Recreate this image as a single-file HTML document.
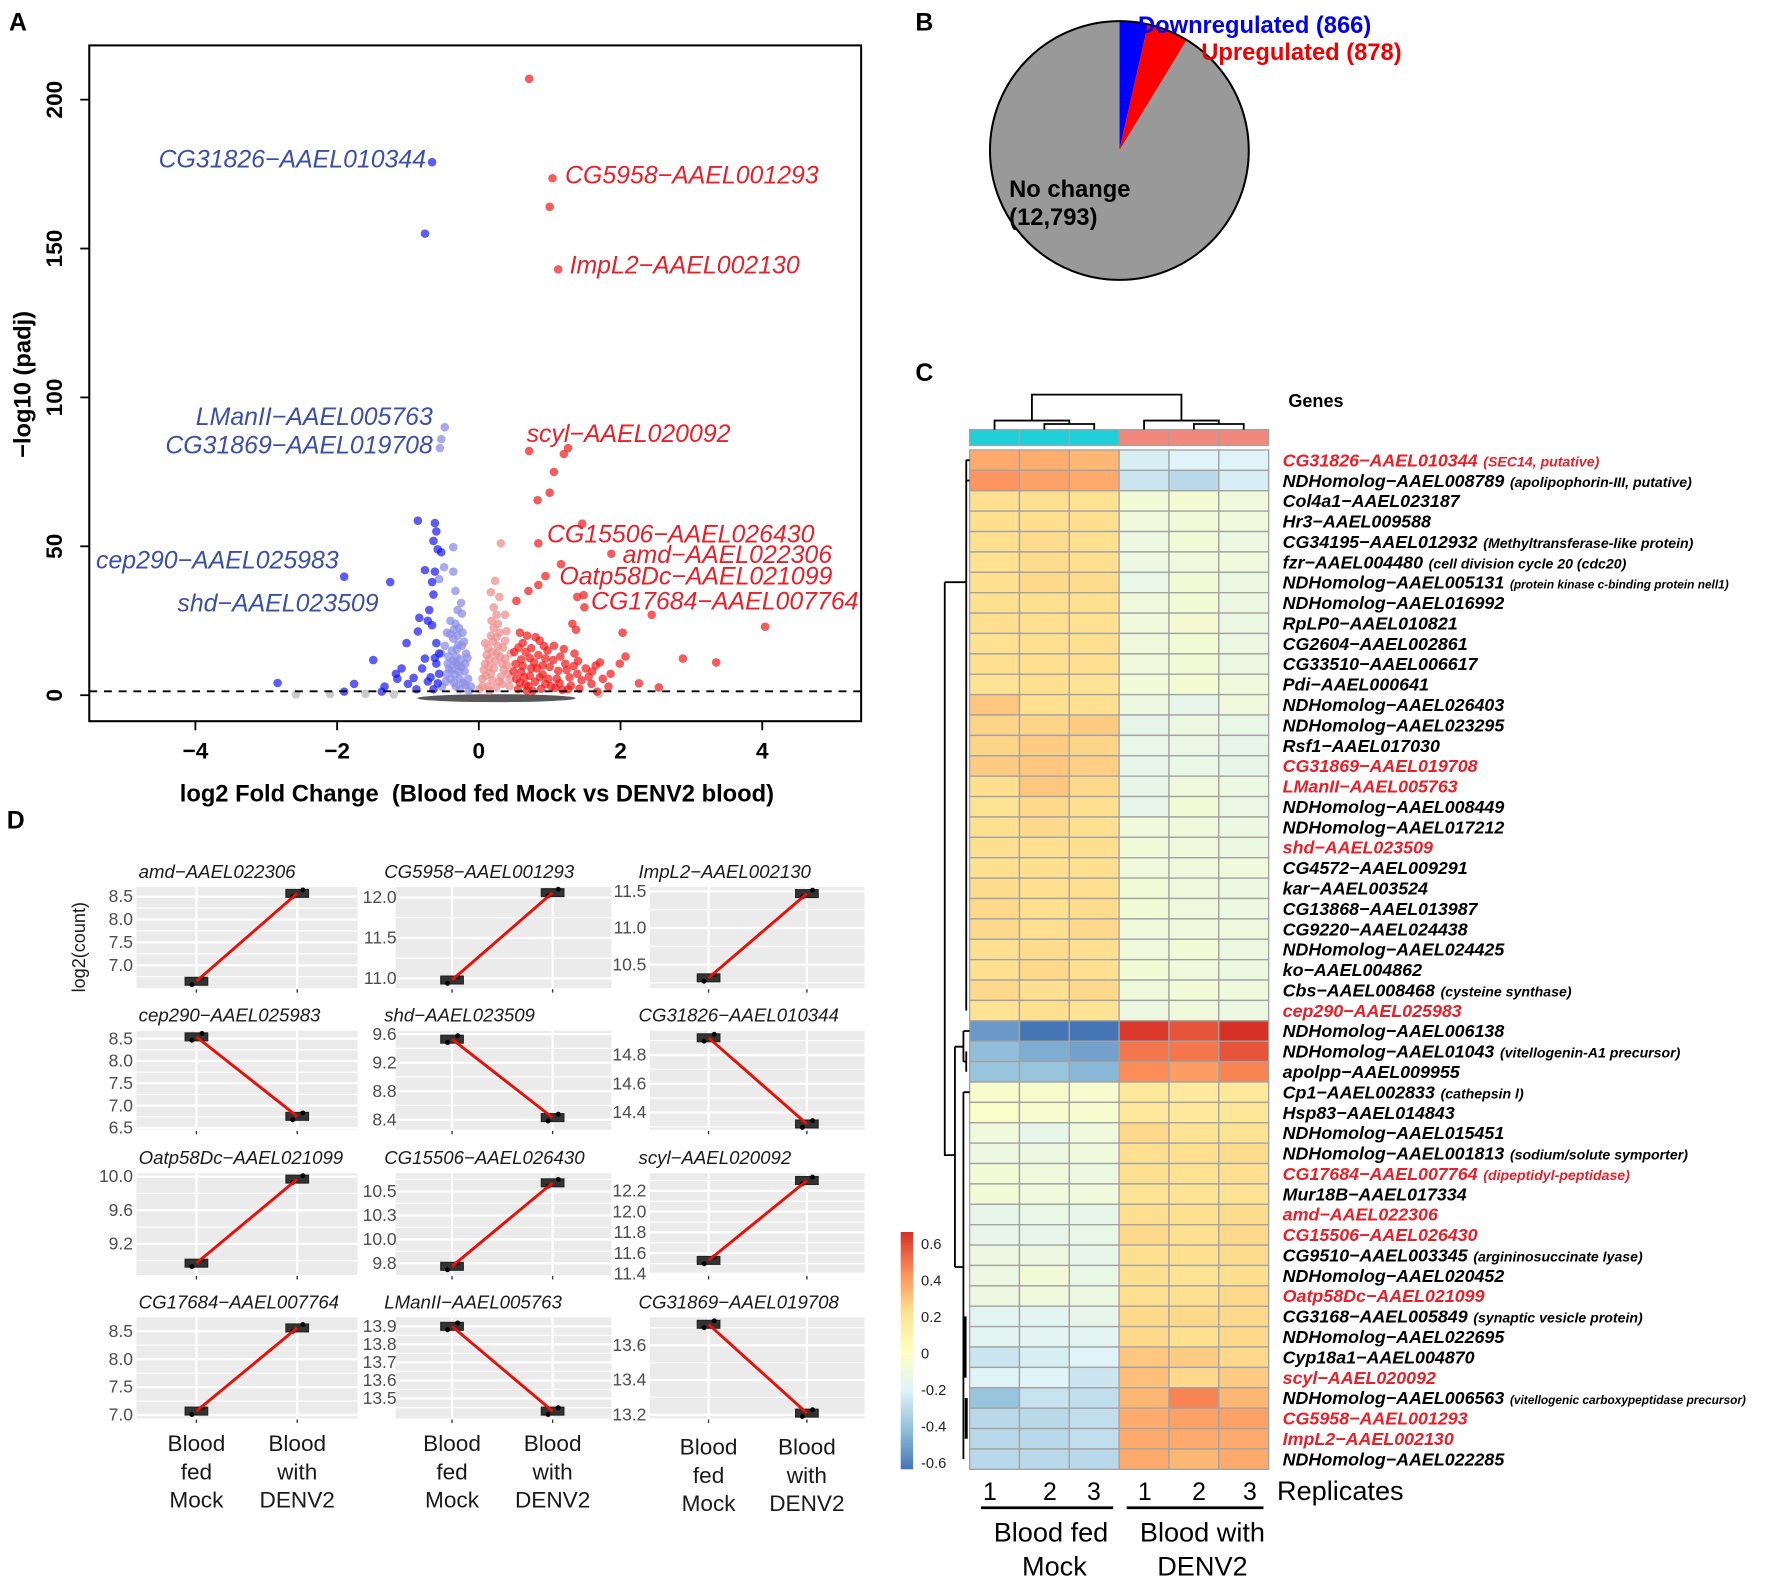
<!DOCTYPE html>
<html><head><meta charset="utf-8">
<style>
html,body{margin:0;padding:0;background:#fff;}
svg{display:block;font-family:"Liberation Sans",Arial,sans-serif;}
</style></head>
<body>
<svg id="fig" xmlns="http://www.w3.org/2000/svg" width="1772" height="1578" viewBox="0 0 1568 1396">
<rect x="0" y="0" width="1568" height="1396" fill="#fff"/>
<g id="panelA"></g>
<g id="panelB"></g>
<g id="panelC"></g>
<g id="panelD"></g>
</svg>
<script>
// ---------- Panel A data ----------
const volcXTicks = [-4, -2, 0, 2, 4];
const volcYTicks = [0, 50, 100, 150, 200];
const strongRed = [[0.71,207],[1.04,173.6],[1.0,164],[1.12,143],[0.71,82],[1.26,83],[1.2,81],[1.06,75],[1.0,68],[0.83,65.5],[1.46,57.6],[0.84,51],[1.87,47.5],[1.16,44],[0.94,40],[0.84,37],[0.7,35],[1.39,33],[1.48,33.6],[1.49,29.5],[0.53,31.7],[2.44,27],[4.04,23],[2.03,21],[1.32,24],[1.37,22],[2.88,12.3],[3.35,11],[2.07,13],[1.99,10.6],[1.71,11],[2.26,4],[2.54,2.6],[1.86,7.2],[1.51,9],[1.22,10.6],[1.35,14],[1.06,16.6],[0.86,18.3],[0.58,21],[0.62,17.5],[0.74,15.8],[0.94,12.3],[1.1,5.5],[1.59,3.8],[1.83,2.9],[1.67,1.2],[0.53,5.5],[0.82,9],[0.49,8],[0.7,3],[0.94,3.8],[1.26,2],[1.39,7.2],[0.6,12],[0.66,14.5],[0.78,11],[0.9,7],[1.0,9.5],[1.15,13],[1.28,6],[0.55,2],[0.62,9.8],[0.72,6.5],[0.8,19.5],[0.68,20],[1.02,3],[1.18,1.8],[1.45,5],[0.88,2.2],[0.5,14.5],[0.76,1.5],[1.6,8],[1.75,5.5],[1.4,11.5],[0.97,15],[0.58,4.2],[1.12,8.2],[0.52,10.5],[0.56,16],[0.64,6],[0.68,1.5],[0.74,9],[0.79,4.5],[0.84,13.5],[0.9,10],[0.92,16.5],[0.98,5.5],[1.05,11.8],[1.08,2.5],[1.14,4],[1.2,15.5],[1.24,8.5],[1.3,3.2],[0.6,7.8],[0.66,3.5],[0.72,12.5],[0.86,6],[1.34,9.8],[1.42,2.2],[1.55,6.2],[1.65,10]];
const lightRed = [[0.31,51],[0.23,38.4],[0.21,29.5],[0.25,27],[0.37,27],[0.17,20],[0.29,21],[0.13,15.8],[0.25,14],[0.09,10.6],[0.21,9],[0.33,10.6],[0.05,5.5],[0.17,7.2],[0.29,4.6],[0.41,7.2],[0.13,2.9],[0.01,2],[0.09,17.5],[0.37,18.3],[0.45,14],[0.21,22.6],[0.29,33],[0.17,34.6],[0.37,12.3],[0.33,3.8],[0.15,12],[0.27,16.5],[0.19,5],[0.07,8.5],[0.35,8.5],[0.43,3],[0.11,13.5],[0.23,11.5],[0.31,6.2],[0.39,21.5],[0.2,18],[0.27,24],[0.05,3],[0.15,1.5],[0.1,6.5],[0.14,9.5],[0.19,14.5],[0.24,2.5],[0.3,13],[0.34,16],[0.4,10],[0.44,5.5],[0.25,19.5],[0.18,25]];
const lightBlue = [[-0.48,90],[-0.53,86],[-0.55,83],[-0.36,49.7],[-0.49,43],[-0.36,41.5],[-0.56,39],[-0.33,35],[-0.3,28.6],[-0.4,25],[-0.28,22.6],[-0.36,19],[-0.48,16.6],[-0.24,16.6],[-0.32,13],[-0.44,10.6],[-0.19,10.6],[-0.28,8],[-0.4,5.5],[-0.15,5.5],[-0.11,2.9],[-0.32,2.9],[-0.52,2.9],[-0.24,27.4],[-0.18,14],[-0.45,21],[-0.53,14],[-0.3,20],[-0.26,12],[-0.34,7],[-0.22,4],[-0.38,15],[-0.42,9],[-0.2,8],[-0.14,1.5],[-0.29,17],[-0.33,24],[-0.25,31],[-0.37,11.5],[-0.46,7],[-0.27,2],[-0.35,4.2],[-0.3,10],[-0.23,21],[-0.4,20.5],[-0.16,12.5],[-0.21,18],[-0.27,5.5],[-0.31,15.5],[-0.35,22],[-0.38,8.5],[-0.43,13],[-0.47,4.5],[-0.25,9.5],[-0.19,3.5],[-0.33,11]];
const strongBlue = [[-0.66,179],[-0.76,155],[-0.86,58.6],[-0.62,57.8],[-0.6,55],[-0.64,51.8],[-0.58,49],[-0.53,48],[-0.76,42],[-0.62,41.5],[-0.66,38],[-0.64,33.8],[-0.7,28.6],[-0.84,26],[-0.72,25],[-0.66,23.5],[-1.02,17.5],[-0.86,21.4],[-0.6,17.5],[-0.56,14],[-0.76,12.3],[-1.09,9],[-0.8,9],[-0.6,10.6],[-1.49,11.8],[-1.25,38],[-1.9,39.8],[-2.84,4.1],[-1.9,1.2],[-1.76,3.8],[-1.33,2.9],[-1.15,5.5],[-1.0,3.8],[-0.88,2],[-0.72,4.6],[-0.64,2],[-0.56,7.2],[-1.17,7.2],[-1.37,1.2],[-0.92,5.8],[-0.58,4],[-0.62,12.5],[-0.68,6]];
const greyPts = [[-2.58,0.3],[-2.1,0.4],[-1.6,0.5],[1.7,0.4],[-1.2,0.3]];
const volcLabels = [
 ["CG31826−AAEL010344", 377, 140, "end", "#3b4fa6"],
 ["LManII−AAEL005763", 383, 368, "end", "#3b4fa6"],
 ["CG31869−AAEL019708", 383, 393, "end", "#3b4fa6"],
 ["cep290−AAEL025983", 85, 495, "start", "#3b4fa6"],
 ["shd−AAEL023509", 157, 533, "start", "#3b4fa6"],
 ["CG5958−AAEL001293", 500, 154, "start", "#e8202a"],
 ["ImpL2−AAEL002130", 504, 234, "start", "#e8202a"],
 ["scyl−AAEL020092", 466, 383, "start", "#e8202a"],
 ["CG15506−AAEL026430", 484, 472, "start", "#e8202a"],
 ["amd−AAEL022306", 551, 490, "start", "#e8202a"],
 ["Oatp58Dc−AAEL021099", 495, 509, "start", "#e8202a"],
 ["CG17684−AAEL007764", 523, 531, "start", "#e8202a"]
];
// ---------- Panel B data ----------
const pieLabels = ["Downregulated (866)", "Upregulated (878)", "No change (12,793)"];
const pieShares = [3.55, 5.17, 91.28];
// ---------- Panel C data ----------
const geneNames = ["CG31826−AAEL010344","NDHomolog−AAEL008789","Col4a1−AAEL023187","Hr3−AAEL009588","CG34195−AAEL012932","fzr−AAEL004480","NDHomolog−AAEL005131","NDHomolog−AAEL016992","RpLP0−AAEL010821","CG2604−AAEL002861","CG33510−AAEL006617","Pdi−AAEL000641","NDHomolog−AAEL026403","NDHomolog−AAEL023295","Rsf1−AAEL017030","CG31869−AAEL019708","LManII−AAEL005763","NDHomolog−AAEL008449","NDHomolog−AAEL017212","shd−AAEL023509","CG4572−AAEL009291","kar−AAEL003524","CG13868−AAEL013987","CG9220−AAEL024438","NDHomolog−AAEL024425","ko−AAEL004862","Cbs−AAEL008468","cep290−AAEL025983","NDHomolog−AAEL006138","NDHomolog−AAEL01043","apolpp−AAEL009955","Cp1−AAEL002833","Hsp83−AAEL014843","NDHomolog−AAEL015451","NDHomolog−AAEL001813","CG17684−AAEL007764","Mur18B−AAEL017334","amd−AAEL022306","CG15506−AAEL026430","CG9510−AAEL003345","NDHomolog−AAEL020452","Oatp58Dc−AAEL021099","CG3168−AAEL005849","NDHomolog−AAEL022695","Cyp18a1−AAEL004870","scyl−AAEL020092","NDHomolog−AAEL006563","CG5958−AAEL001293","ImpL2−AAEL002130","NDHomolog−AAEL022285"];
const geneNotes = {0:"(SEC14, putative)",1:"(apolipophorin-III, putative)",4:"(Methyltransferase-like protein)",5:"(cell division cycle 20 (cdc20)",6:"(protein kinase c-binding protein nell1)",26:"(cysteine synthase)",29:"(vitellogenin-A1 precursor)",31:"(cathepsin l)",34:"(sodium/solute symporter)",35:"(dipeptidyl-peptidase)",39:"(argininosuccinate lyase)",42:"(synaptic vesicle protein)",46:"(vitellogenic carboxypeptidase precursor)"};
const noteSize = {6:10.5,46:10.5};
const highlighted = [0,15,16,19,27,35,37,38,41,45,47,48];
const heatValues = [
[0.33,0.32,0.30,-0.22,-0.2,-0.2],[0.38,0.35,0.33,-0.25,-0.3,-0.22],[0.2,0.2,0.19,-0.08,-0.07,-0.1],[0.2,0.2,0.2,-0.1,-0.09,-0.1],[0.2,0.21,0.2,-0.12,-0.08,-0.12],
[0.19,0.21,0.2,-0.12,-0.1,-0.1],[0.2,0.22,0.21,-0.14,-0.08,-0.12],[0.2,0.2,0.2,-0.1,-0.08,-0.12],[0.2,0.2,0.19,-0.1,-0.07,-0.12],[0.19,0.2,0.2,-0.1,-0.08,-0.12],
[0.2,0.2,0.2,-0.1,-0.08,-0.12],[0.18,0.2,0.18,-0.09,-0.07,-0.1],[0.26,0.2,0.2,-0.12,-0.15,-0.1],[0.23,0.23,0.25,-0.15,-0.12,-0.14],[0.23,0.25,0.23,-0.14,-0.13,-0.15],
[0.25,0.26,0.24,-0.15,-0.14,-0.15],[0.2,0.26,0.22,-0.15,-0.1,-0.12],[0.18,0.22,0.2,-0.15,-0.08,-0.13],[0.2,0.22,0.2,-0.1,-0.1,-0.12],[0.2,0.2,0.2,-0.09,-0.1,-0.12],
[0.2,0.2,0.2,-0.1,-0.1,-0.1],[0.21,0.2,0.2,-0.08,-0.1,-0.12],[0.22,0.2,0.21,-0.08,-0.1,-0.12],[0.22,0.2,0.22,-0.1,-0.1,-0.1],[0.2,0.21,0.2,-0.1,-0.08,-0.12],
[0.2,0.22,0.2,-0.08,-0.1,-0.12],[0.22,0.2,0.22,-0.1,-0.08,-0.1],[0.18,0.2,0.18,-0.12,-0.1,-0.12],[-0.5,-0.6,-0.62,0.58,0.52,0.65],[-0.4,-0.45,-0.48,0.45,0.45,0.52],
[-0.38,-0.38,-0.42,0.4,0.36,0.42],[-0.05,-0.05,-0.06,0.15,0.14,0.15],[-0.04,-0.06,-0.06,0.15,0.15,0.16],[-0.1,-0.15,-0.1,0.22,0.18,0.18],[-0.12,-0.12,-0.1,0.2,0.2,0.21],
[-0.08,-0.1,-0.12,0.2,0.19,0.2],[-0.08,-0.1,-0.1,0.18,0.18,0.18],[-0.15,-0.14,-0.15,0.2,0.2,0.21],[-0.15,-0.15,-0.14,0.22,0.2,0.22],[-0.12,-0.12,-0.15,0.2,0.2,0.21],
[-0.12,-0.08,-0.14,0.2,0.18,0.2],[-0.12,-0.1,-0.12,0.2,0.2,0.22],[-0.18,-0.18,-0.15,0.22,0.22,0.22],[-0.18,-0.18,-0.18,0.22,0.2,0.22],[-0.25,-0.22,-0.2,0.26,0.25,0.22],
[-0.2,-0.2,-0.25,0.28,0.22,0.25],[-0.38,-0.26,-0.28,0.3,0.42,0.3],[-0.3,-0.3,-0.28,0.33,0.35,0.35],[-0.3,-0.3,-0.28,0.33,0.33,0.33],[-0.3,-0.3,-0.3,0.33,0.3,0.33]];
const colorbarTicks = [0.6, 0.4, 0.2, 0, -0.2, -0.4, -0.6];
const colorbarTickLabels = ["0.6","0.4","0.2","0","-0.2","-0.4","-0.6"];
const replicateLabels = ["1","2","3","1","2","3"];
// ---------- Panel D data ----------
const dTitles = ["amd−AAEL022306","CG5958−AAEL001293","ImpL2−AAEL002130","cep290−AAEL025983","shd−AAEL023509","CG31826−AAEL010344","Oatp58Dc−AAEL021099","CG15506−AAEL026430","scyl−AAEL020092","CG17684−AAEL007764","LManII−AAEL005763","CG31869−AAEL019708"];
const dDomainLo = [6.5,10.88,10.18,6.46,8.26,14.28,8.83,9.63,11.39,6.94,13.39,13.18];
const dDomainHi = [8.71,12.13,11.56,8.68,9.65,14.97,10.04,10.69,12.37,8.75,13.95,13.76];
const dTicks = [[7.0,7.5,8.0,8.5],[11.0,11.5,12.0],[10.5,11.0,11.5],[6.5,7.0,7.5,8.0,8.5],[8.4,8.8,9.2,9.6],[14.4,14.6,14.8],[9.2,9.6,10.0],[9.75,10.0,10.25,10.5],[11.4,11.6,11.8,12.0,12.2],[7.0,7.5,8.0,8.5],[13.5,13.6,13.7,13.8,13.9],[13.2,13.4,13.6]];
const dTickLabels = [["7.0","7.5","8.0","8.5"],["11.0","11.5","12.0"],["10.5","11.0","11.5"],["6.5","7.0","7.5","8.0","8.5"],["8.4","8.8","9.2","9.6"],["14.4","14.6","14.8"],["9.2","9.6","10.0"],["9.8","10.0","10.3","10.5"],["11.4","11.6","11.8","12.0","12.2"],["7.0","7.5","8.0","8.5"],["13.5","13.6","13.7","13.8","13.9"],["13.2","13.4","13.6"]];
const dMock = [6.65,10.98,10.32,8.54,9.53,14.92,8.97,9.72,11.53,7.07,13.9,13.72];
const dDenv = [8.57,12.06,11.47,6.76,8.43,14.32,9.97,10.59,12.30,8.56,13.43,13.21];
const dCategories = ["Blood fed Mock","Blood with DENV2"];

const NS = "http://www.w3.org/2000/svg";
function mk(parent, tag, attrs, text){
  const el = document.createElementNS(NS, tag);
  for (const k in attrs) el.setAttribute(k, attrs[k]);
  if (text !== undefined) el.textContent = text;
  parent.appendChild(el);
  return el;
}
let el;
const fig = document.getElementById('fig');
[["A",8,27],["B",810,27],["C",810,337],["D",6,733]].forEach(p=>{
  el = mk(fig,'text',{x:p[1],y:p[2],'font-size':22,'font-weight':'bold',fill:'#000'},p[0]);
  
  
});

// ================= Panel A =================
const A = document.getElementById('panelA');
const sx = v => 423.7 + 62.7*v;
const sy = v => 615 - 2.635*v;
el = mk(A,'defs',{});


el.innerHTML = '<clipPath id="clipA"><rect x="79" y="40" width="683" height="598"/></clipPath>';
const Ap = mk(A,'g',{'clip-path':'url(#clipA)'});


el = mk(Ap,'ellipse',{cx:sx(0.25),cy:sy(-1.0),rx:70,ry:3.5,fill:'#3a3a3a',opacity:0.85});


function drawPts(arr, color, op, name){
  arr.forEach(p=>{
    el = mk(Ap,'circle',{cx:sx(p[0]),cy:sy(p[1]),r:3.8,fill:color,'fill-opacity':op});
    
    
  });
}
drawPts(greyPts,'#bdbdbd',0.8,'point-nonsignificant');
drawPts(lightBlue,'#8c8ee6',0.75,'point-down-small');
drawPts(lightRed,'#ec9090',0.75,'point-up-small');
drawPts(strongRed,'#f01818',0.7,'point-upregulated');
drawPts(strongBlue,'#1818f0',0.7,'point-downregulated');
el = mk(Ap,'line',{x1:79,x2:762,y1:sy(1.3),y2:sy(1.3),stroke:'#000','stroke-width':1.6,'stroke-dasharray':'7,6'});


el = mk(A,'rect',{x:79,y:40,width:683,height:598,fill:'none',stroke:'#000','stroke-width':1.8});


volcXTicks.forEach(t=>{
  el = mk(A,'line',{x1:sx(t),x2:sx(t),y1:638,y2:646,stroke:'#000','stroke-width':1.6});
  
  
  el = mk(A,'text',{x:sx(t),y:671,'text-anchor':'middle','font-size':20,'font-weight':'bold'},t<0?('−'+Math.abs(t)):String(t));
  
  
});
volcYTicks.forEach(t=>{
  el = mk(A,'line',{x1:71,x2:79,y1:sy(t),y2:sy(t),stroke:'#000','stroke-width':1.6});
  
  
  el = mk(A,'text',{x:0,y:0,transform:`translate(55,${sy(t)}) rotate(-90)`,'text-anchor':'middle','font-size':20,'font-weight':'bold'},String(t));
  
  
});
el = mk(A,'text',{x:0,y:0,transform:'translate(27,340) rotate(-90)','text-anchor':'middle','font-size':21,'font-weight':'bold'},'−log10 (padj)');


el = mk(A,'text',{x:422,y:709,'text-anchor':'middle','font-size':21,'font-weight':'bold'},'log2 Fold Change\u00A0 (Blood fed Mock vs DENV2 blood)');


volcLabels.forEach(l=>{
  el = mk(A,'text',{x:l[1],y:l[2]+8,'text-anchor':l[3],'font-size':22,'font-style':'italic',fill:l[4]},l[0]);
  
  
});

// ================= Panel B =================
const B = document.getElementById('panelB');
const pcx=990.5, pcy=133, pr=114.5;
const pieColors = ['#0000ff','#ff0000','#999999'];
let acc = 0;
const pieTotal = pieShares.reduce((a,b)=>a+b,0);
pieShares.forEach((s,i)=>{
  const a0 = acc/pieTotal*2*Math.PI - Math.PI/2;
  acc += s;
  const a1 = acc/pieTotal*2*Math.PI - Math.PI/2;
  const large = (a1-a0)>Math.PI?1:0;
  const d = `M${pcx},${pcy} L${pcx+pr*Math.cos(a0)},${pcy+pr*Math.sin(a0)} A${pr},${pr} 0 ${large} 1 ${pcx+pr*Math.cos(a1)},${pcy+pr*Math.sin(a1)} Z`;
  el = mk(B,'path',{d:d,fill:pieColors[i]});
  
  
});
el = mk(B,'circle',{cx:pcx,cy:pcy,r:pr,fill:'none',stroke:'#000','stroke-width':1.8});


el = mk(B,'text',{x:1007,y:29,'font-size':21,'font-weight':'bold',fill:'#0000ee'},pieLabels[0]);


el = mk(B,'text',{x:1063,y:53,'font-size':21,'font-weight':'bold',fill:'#ee0000'},pieLabels[1]);


el = mk(B,'text',{x:893,y:174,'font-size':21,'font-weight':'bold',fill:'#000'},'No change');


el = mk(B,'text',{x:893,y:199,'font-size':21,'font-weight':'bold',fill:'#000'},'(12,793)');



// ================= Panel C =================
const C = document.getElementById('panelC');
const palette = ['#4575B4','#91BFDB','#E0F3F8','#FFFFBF','#FEE090','#FC8D59','#D73027'];
function hex2rgb(h){return [parseInt(h.substr(1,2),16),parseInt(h.substr(3,2),16),parseInt(h.substr(5,2),16)];}
function colorOf(v){
  let t = (Math.max(-0.6,Math.min(0.6,v))+0.6)/0.2;
  let i = Math.min(5,Math.floor(t)); let f=t-i;
  const a=hex2rgb(palette[i]), b=hex2rgb(palette[i+1]);
  return `rgb(${Math.round(a[0]+(b[0]-a[0])*f)},${Math.round(a[1]+(b[1]-a[1])*f)},${Math.round(a[2]+(b[2]-a[2])*f)})`;
}
const hx0=858, cw=44.1, hy0=398, rh=18.04;
const colX = j => hx0 + cw*j + cw/2;
const rowY = i => hy0 + rh*i + rh/2;
heatValues.forEach((row,i)=>{
  row.forEach((v,j)=>{
    el = mk(C,'rect',{x:hx0+cw*j,y:hy0+rh*i,width:cw,height:rh,fill:colorOf(v),stroke:'#a3a3a3','stroke-width':1.2});
    
    
  });
});
[0,1,2,3,4,5].forEach(j=>{
  el = mk(C,'rect',{x:hx0+cw*j,y:380,width:cw,height:14,fill:j<3?'#1fd0d8':'#f2877e',stroke:'#a3a3a3','stroke-width':1.2});
  
  
});
const cd = `M${colX(1)},380 V375 H${colX(2)} V380 M${colX(0)},380 V372 H${(colX(1)+colX(2))/2} V375 M${colX(4)},380 V375 H${colX(5)} V380 M${colX(3)},380 V372 H${(colX(4)+colX(5))/2} V375 M${(colX(0)+(colX(1)+colX(2))/2)/2},372 V349 H${(colX(3)+(colX(4)+colX(5))/2)/2} V372`;
el = mk(C,'path',{d:cd,fill:'none',stroke:'#000','stroke-width':1.6});


const rd = `M855,${rowY(0)} H858 M855,${rowY(1)} H858 M855,${rowY(0)} V${rowY(27)} M836,515 H855 M836,515 V1022 H845 M845,926 V1121 M845,926 H852.5 M852.5,${rowY(28)} V${(rowY(29)+rowY(30))/2} M852.5,${rowY(28)} H858 M852.5,${(rowY(29)+rowY(30))/2} H855 M855,${rowY(29)} V${rowY(30)} M845,1121 H852.5 M852.5,${rowY(31)} V${rowY(49)} M852.5,${rowY(31)} H858`;
el = mk(C,'path',{d:rd,fill:'none',stroke:'#000','stroke-width':1.6});


el = mk(C,'path',{d:`M854,${rowY(42)} V${rowY(45)} M855,${rowY(46)} V${rowY(48)}`,fill:'none',stroke:'#000','stroke-width':2.6});


el = mk(C,'text',{x:1140,y:360,'font-size':16,'font-weight':'bold'},'Genes');


geneNames.forEach((g,i)=>{
  const red = highlighted.indexOf(i)>=0;
  el = mk(C,'text',{x:1135,y:rowY(i)+5.5,'font-size':15.8,'font-weight':'bold','font-style':'italic',fill:red?'#e8202a':'#000'});
  
  
  const t1 = mk(el,'tspan',{},g);
  
  
  if (geneNotes[i]) {
    const t2 = mk(el,'tspan',{'font-size':noteSize[i]||12.5,dx:5},geneNotes[i]);
    
    
  }
});
el = mk(C,'defs',{});


el.innerHTML = '<linearGradient id="cbar" x1="0" y1="1" x2="0" y2="0">'+palette.map((c,i)=>`<stop offset="${i/6}" stop-color="${c}"/>`).join('')+'</linearGradient>';
const cbTop=1090, cbBot=1300;
el = mk(C,'rect',{x:797,y:cbTop,width:11,height:cbBot-cbTop,fill:'url(#cbar)'});


const cbY = v => 1100 + (0.6-v)/1.2*(1294-1100);
colorbarTicks.forEach((t,i)=>{
  el = mk(C,'text',{x:815,y:cbY(t)+5,'font-size':13,fill:'#222'},colorbarTickLabels[i]);
  
  
});
[876,929,968,1013,1061,1106].forEach((x,j)=>{
  el = mk(C,'text',{x:x,y:1327,'text-anchor':'middle','font-size':22},replicateLabels[j]);
  
  
});
el = mk(C,'text',{x:1130,y:1327,'font-size':24},'Replicates');


el = mk(C,'path',{d:'M868,1334 H985 M997,1334 H1118',stroke:'#000','stroke-width':2.5});


[["Blood fed",930,1364],["Mock",933,1394],["Blood with",1064,1364],["DENV2",1064,1394]].forEach(t=>{
  el = mk(C,'text',{x:t[1],y:t[2],'text-anchor':'middle','font-size':24},t[0]);
  
  
});

// ================= Panel D =================
const D = document.getElementById('panelD');
const colL = [120.7,350,575], colR = [316.3,541,765];
const rowT = [784.7,911.8,1038,1165.5], rowB = [874.2,999.5,1128,1254.9];
const catX = [[173.8,263],[400,489],[627,714]];
dTitles.forEach((title,k)=>{
  const c = k%3, r = Math.floor(k/3);
  const gx=colL[c], gw=colR[c]-colL[c], gy=rowT[r], gh=rowB[r]-rowT[r];
  const lo=dDomainLo[k], hi=dDomainHi[k];
  const py = v => gy + (hi-v)/(hi-lo)*gh;
  el = mk(D,'rect',{x:gx,y:gy,width:gw,height:gh,fill:'#ebebeb'});
  
  
  const tk = dTicks[k];
  for (let m=0;m<tk.length-1;m++){
    el = mk(D,'line',{x1:gx,x2:gx+gw,y1:py((tk[m]+tk[m+1])/2),y2:py((tk[m]+tk[m+1])/2),stroke:'#fff','stroke-width':1});
    
    
  }
  const step = tk[1]-tk[0];
  [tk[0]-step/2, tk[tk.length-1]+step/2].forEach(v=>{
    if (v>lo && v<hi){
      el = mk(D,'line',{x1:gx,x2:gx+gw,y1:py(v),y2:py(v),stroke:'#fff','stroke-width':1});
      
      
    }
  });
  tk.forEach((t,ti)=>{
    el = mk(D,'line',{x1:gx,x2:gx+gw,y1:py(t),y2:py(t),stroke:'#fff','stroke-width':2});
    
    
    el = mk(D,'text',{x:gx-(c===1?-1:3),y:py(t)+5,'text-anchor':'end','font-size':15.5,fill:'#4d4d4d'},dTickLabels[k][ti]);
    
    
  });
  catX[c].forEach(x=>{
    el = mk(D,'line',{x1:x,x2:x,y1:gy,y2:gy+gh,stroke:'#fff','stroke-width':2});
    
    
    el = mk(D,'line',{x1:x,x2:x,y1:gy+gh+1,y2:gy+gh+4,stroke:'#333','stroke-width':1.2});
    
    
  });
  el = mk(D,'text',{x:gx+(c===0?2:-10),y:gy-8,'font-size':16.5,'font-style':'italic',fill:'#1a1a1a'},title);
  
  
  [[dMock[k],catX[c][0]],[dDenv[k],catX[c][1]]].forEach(p=>{
    el = mk(D,'rect',{x:p[1]-10,y:py(p[0])-3.5,width:20,height:7,fill:'#333',stroke:'#222','stroke-width':1});
    
    
    el = mk(D,'circle',{cx:p[1]-4,cy:py(p[0])+3,r:2.2,fill:'#000'});
    
    
    el = mk(D,'circle',{cx:p[1]+5,cy:py(p[0])-3,r:2.2,fill:'#000'});
    
    
  });
  el = mk(D,'line',{x1:catX[c][0],y1:py(dMock[k]),x2:catX[c][1],y2:py(dDenv[k]),stroke:'#e3120b','stroke-width':2.6});
  
  
});
el = mk(D,'text',{x:0,y:0,transform:'translate(75,838) rotate(-90)','text-anchor':'middle','font-size':16,fill:'#1a1a1a'},'log2(count)');


const catLines = [["Blood","fed","Mock"],["Blood","with","DENV2"]];
[0,1,2].forEach(c=>{
  const y0 = c===2?1287:1284;
  catLines.forEach((lines,j)=>{
    lines.forEach((s,li)=>{
      el = mk(D,'text',{x:catX[c][j],y:y0+li*25,'text-anchor':'middle','font-size':20,fill:'#1a1a1a'},s);
      
      
    });
  });
});
</script>
</body></html>
